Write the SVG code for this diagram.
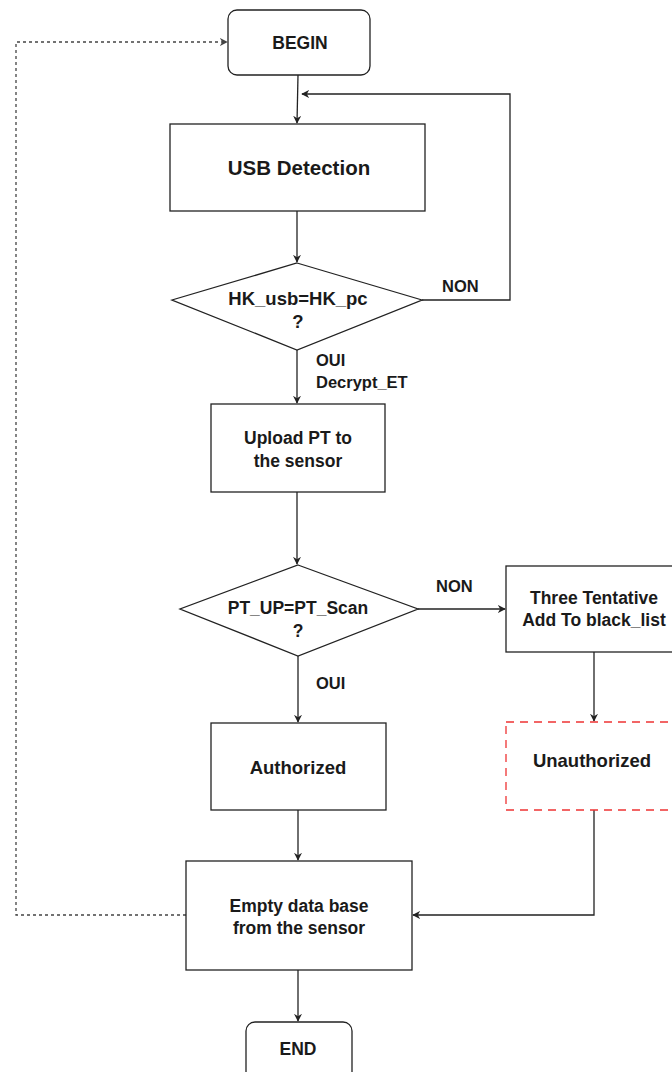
<svg xmlns="http://www.w3.org/2000/svg" width="672" height="1072" viewBox="0 0 672 1072">
  <defs>
    <marker id="arrow" viewBox="0 0 10 10" refX="9" refY="5" markerWidth="8" markerHeight="8" orient="auto" markerUnits="userSpaceOnUse">
      <path d="M0,0 L10,5 L0,10 L3,5 Z" fill="#222"/>
    </marker>
    <marker id="arrowGrey" viewBox="0 0 10 10" refX="9" refY="5" markerWidth="8" markerHeight="8" orient="auto" markerUnits="userSpaceOnUse">
      <path d="M0,0 L10,5 L0,10 L3,5 Z" fill="#444"/>
    </marker>
  </defs>
  <style>
    .box { fill: #ffffff; stroke: #222; stroke-width: 1.3; }
    .warn { fill: #ffffff; stroke: #ee3333; stroke-width: 1.3; stroke-dasharray: 8 6; }
    .edge { fill: none; stroke: #222; stroke-width: 1.3; marker-end: url(#arrow); }
    .back { fill: none; stroke: #444; stroke-width: 1.3; stroke-dasharray: 3 3; marker-end: url(#arrowGrey); }
    text { font-family: "Liberation Sans", Arial, sans-serif; font-weight: bold; fill: #1a1a1a; text-anchor: middle; dominant-baseline: central; }
    .t { font-size: 17.5px; }
    .big { font-size: 20.5px; }
    .mid { font-size: 18.5px; }
    .lbl { font-size: 16.5px; text-anchor: start; }
  </style>
  <rect width="672" height="1072" fill="#ffffff"/>

  <!-- connectors and their labels -->
  <g id="edges">
    <path class="edge" d="M298,75 L297,123"/>
    <path class="edge" d="M297,211 L297,262"/>
    <path class="edge" d="M422,300 L510,300 L510,94 L302,94"/>
    <path class="edge" d="M297,350 L297,403"/>
    <path class="edge" d="M297,492 L297,564"/>
    <path class="edge" d="M418,609 L505,609"/>
    <path class="edge" d="M594,652 L594,721"/>
    <path class="edge" d="M298,656 L298,722"/>
    <path class="edge" d="M298,810 L298,860"/>
    <path class="edge" d="M594,810 L594,915 L413,915"/>
    <path class="edge" d="M298,970 L298,1021"/>
    <path class="back" d="M186,915 L16,915 L16,42 L227,42"/>
    <text class="lbl" x="442" y="286">NON</text>
    <text class="lbl" x="316" y="360">OUI</text>
    <text class="lbl" x="316" y="382">Decrypt_ET</text>
    <text class="lbl" x="436" y="586">NON</text>
    <text class="lbl" x="316" y="683">OUI</text>
  </g>

  <g id="begin">
    <rect class="box" x="228" y="10" width="142" height="65" rx="9"/>
    <text class="t" x="300" y="43">BEGIN</text>
  </g>

  <g id="usb-detection">
    <rect class="box" x="170" y="124" width="255" height="87"/>
    <text class="big" x="299" y="167">USB Detection</text>
  </g>

  <g id="check-hk">
    <polygon class="box" points="297,263 422,300 297,350 172,300"/>
    <text class="mid" x="298" y="298">HK_usb=HK_pc</text>
    <text class="mid" x="298" y="321">?</text>
  </g>

  <g id="upload-pt">
    <rect class="box" x="211" y="404" width="174" height="88"/>
    <text class="t" x="298" y="438">Upload PT to</text>
    <text class="t" x="298" y="461">the sensor</text>
  </g>

  <g id="check-pt">
    <polygon class="box" points="298,565 418,609 298,656 180,609"/>
    <text class="t" x="298" y="608">PT_UP=PT_Scan</text>
    <text class="t" x="298" y="631">?</text>
  </g>

  <g id="three-tentative">
    <rect class="box" x="506" y="566" width="170" height="86"/>
    <text class="t" x="594" y="598">Three Tentative</text>
    <text class="t" x="594" y="620">Add To black_list</text>
  </g>

  <g id="unauthorized">
    <rect class="warn" x="506" y="722" width="170" height="88"/>
    <text class="mid" x="592" y="760">Unauthorized</text>
  </g>

  <g id="authorized">
    <rect class="box" x="211" y="723" width="175" height="87"/>
    <text class="mid" x="298" y="767">Authorized</text>
  </g>

  <g id="empty-db">
    <rect class="box" x="186" y="861" width="226" height="109"/>
    <text class="t" x="299" y="906">Empty data base</text>
    <text class="t" x="299" y="928">from the sensor</text>
  </g>

  <g id="end">
    <rect class="box" x="246" y="1022" width="106" height="60" rx="9"/>
    <text class="t" x="298" y="1049">END</text>
  </g>
</svg>
